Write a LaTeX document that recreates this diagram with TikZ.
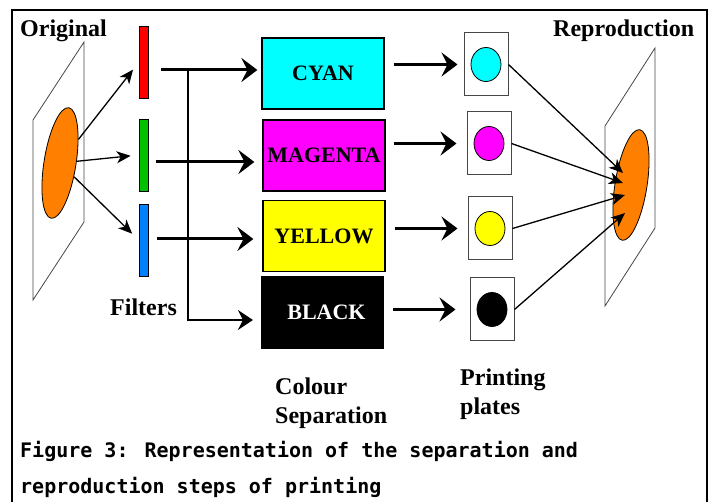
\documentclass[tikz,border=0pt]{standalone}
\usepackage{fontspec}
\setmainfont{Liberation Serif}
\newfontfamily\capfont{DejaVu Sans Mono}
\usetikzlibrary{arrows.meta, shapes.geometric, calc}
\definecolor{qcyan}{RGB}{0,255,255}
\definecolor{qmagenta}{RGB}{255,0,255}
\definecolor{qyellow}{RGB}{255,255,0}
\definecolor{qorange}{RGB}{255,128,0}
\definecolor{qred}{RGB}{255,0,0}
\definecolor{qgreen}{RGB}{0,192,0}
\definecolor{qblue}{RGB}{0,128,255}
\definecolor{qgray}{RGB}{70,70,70}

\tikzset{
  lbl/.style={font=\fontsize{24}{29}\selectfont\bfseries, inner sep=0},
  filt/.style={draw, line width=0.8, minimum width=9, minimum height=72, inner sep=0},
  sepbox/.style={draw, line width=1.2, minimum width=122, minimum height=71, inner sep=0,
    font=\fontsize{22}{26}\selectfont\bfseries},
  plate/.style={draw=qgray, line width=1, minimum width=44, minimum height=63, inner sep=0},
  ink/.style={ellipse, draw, line width=0.8, minimum width=30, minimum height=34, inner sep=0},
  blob/.style={ellipse, draw, line width=0.8, fill=qorange, minimum width=32,
    minimum height=112, inner sep=0, rotate=-9},
  ray/.style={line width=1.3, -{Stealth[length=14pt, width=12pt, inset=4pt]}},
  bigarrow/.style={line width=3, -{Stealth[length=16pt, width=24pt, inset=6pt]}},
}

\begin{document}
\begin{tikzpicture}[x=1pt, y=-1pt]
\useasboundingbox (0,0) rectangle (716,502);
\draw[line width=2.5] (12,10) rectangle (707,520);

% planes of the original and of the print
\draw[qgray, line width=0.8] (33,120) -- (84,42) -- (84,222) -- (33,300) -- cycle;
\draw[qgray, line width=0.8] (605,126) -- (655,48) -- (655,228) -- (605,306) -- cycle;
\node[blob] (origEll) at (60,163) {};
\node[blob] (reproEll) at (631,185) {};

\node[lbl, anchor=base west] (origLbl) at (20,37) {Original};
\node[lbl, anchor=base west] (reproLbl) at (553,37) {Reproduction};
\node[lbl, anchor=base west] (filtLbl) at (110,316) {Filters};
\node[lbl, anchor=north west, align=left] (sepLbl) at (275,377.5) {Colour\\Separation};
\node[lbl, anchor=north west, align=left] (plateLbl) at (460,368.5) {Printing\\plates};

\node[filt, fill=qred] (fRed) at (143.5,62.5) {};
\node[filt, fill=qgreen] (fGreen) at (143.5,155) {};
\node[filt, fill=qblue] (fBlue) at (143.5,240) {};

\node[sepbox, fill=qcyan] (sepC) at (323,73.5) {CYAN};
\node[sepbox, fill=qmagenta] (sepM) at (324,155.5) {MAGENTA};
\node[sepbox, fill=qyellow] (sepY) at (324,236) {YELLOW};
\node[sepbox, fill=black, text=white] (sepK) at (322.5,312.5) {\hspace{8pt}BLACK};

\node[plate] (pC) at (486,64.5) {};
\node[plate] (pM) at (489,143.5) {};
\node[plate] (pY) at (490,228.5) {};
\node[plate] (pK) at (492,309.5) {};
\node[ink, fill=qcyan] (dC) at (pC) {};
\node[ink, fill=qmagenta] (dM) at (pM) {};
\node[ink, fill=qyellow] (dY) at (pY) {};
\node[ink, fill=black] (dK) at (pK) {};

% light through the filters
\draw[ray, shorten >=9pt] (origEll) -- (fRed.west);
\draw[ray, shorten >=8pt] (origEll) -- (fGreen.west);
\draw[ray, shorten >=9pt] (origEll) -- (fBlue.west);

\coordinate (inC) at ($(sepC.west)+(0,-3.5)$);
\coordinate (inM) at ($(sepM.west)+(0,6.5)$);
\coordinate (inY) at ($(sepY.west)+(0,3)$);
\coordinate (inK) at ($(sepK.west)+(0,7.5)$);
\coordinate (split) at (188,70);

\draw[bigarrow, shorten <=13pt, shorten >=4pt] (fRed.east |- inC) -- (inC);
\draw[bigarrow, shorten <=8pt, shorten >=8pt] (fGreen.east |- inM) -- (inM);
\draw[bigarrow, shorten <=9pt, shorten >=9pt] (fBlue.east |- inY) -- (inY);
\draw[line width=1.3, -{Stealth[length=15pt, width=20pt, inset=5pt]}, shorten >=8pt]
  (split) |- (inK);

\draw[bigarrow, shorten <=9pt, shorten >=6pt] (sepC.east |- pC.west) -- (pC.west);
\draw[bigarrow, shorten <=8pt, shorten >=10pt] (sepM.east |- pM.west) -- (pM.west);
\draw[bigarrow, shorten <=9pt, shorten >=10pt] (sepY.east |- pY.west) -- (pY.west);
\draw[bigarrow, shorten <=9pt, shorten >=14pt] (sepK.east |- pK.west) -- (pK.west);

% plates onto the paper
\draw[ray] (pC.east) -- ($(reproEll.center)+(-8,-12)$);
\draw[ray] (pM.east) -- ($(reproEll.center)+(-8,-2)$);
\draw[ray] (pY.east) -- ($(reproEll.center)+(-6,10)$);
\draw[ray] (pK.east) -- ($(reproEll.center)+(-6,28)$);

\node[anchor=north west, inner sep=0, align=left,
  font=\capfont\bfseries\fontsize{20}{36}\selectfont] (caption) at (20,441)
  {Figure 3: Representation of the separation and\\reproduction steps of printing};
\end{tikzpicture}
\end{document}
